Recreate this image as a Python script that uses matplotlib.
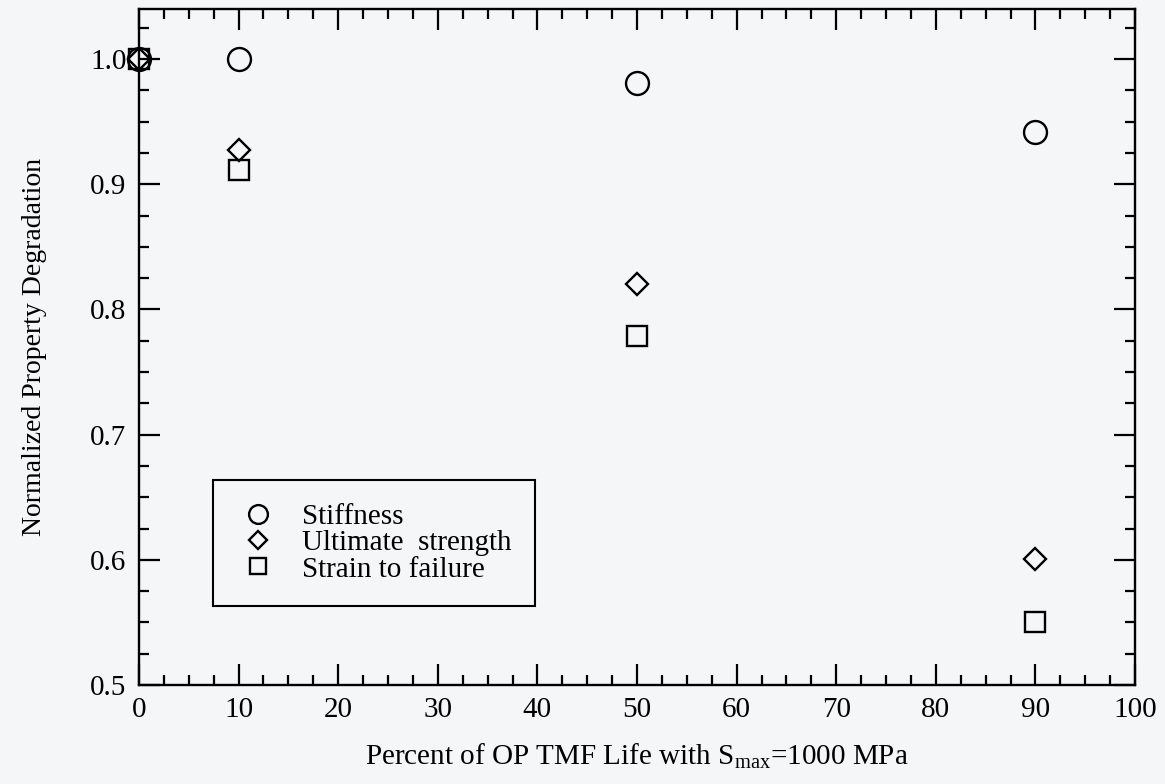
import numpy as np
import matplotlib
matplotlib.use("Agg")
import matplotlib.pyplot as plt
from matplotlib.ticker import MultipleLocator

# Data
pct_life = [0, 10, 50, 90]
stiffness = [1.0, 1.0, 0.981, 0.942]
ult_strength = [1.0, 0.927, 0.82, 0.601]
strain_fail = [1.0, 0.911, 0.779, 0.55]

plt.rcParams['font.family'] = ['Liberation Serif', 'DejaVu Serif']
plt.rcParams['mathtext.fontset'] = 'custom'
plt.rcParams['mathtext.rm'] = 'Liberation Serif'

bg = '#f5f6f8'
fig = plt.figure(figsize=(11.65, 7.84), dpi=100, facecolor=bg)
ax = fig.add_axes([0.1193, 0.1263, 0.8550, 0.8622])
ax.set_facecolor(bg)

mk = dict(linestyle='none', markerfacecolor='none', markeredgecolor='black',
          markeredgewidth=1.7, clip_on=False)
ax.plot(pct_life, stiffness, marker='o', markersize=16.5, label='Stiffness', **mk)
ax.plot(pct_life, ult_strength, marker='D', markersize=11, label='Ultimate  strength', **mk)
ax.plot(pct_life, strain_fail, marker='s', markersize=14, label='Strain to failure', **mk)

ax.set_xlim(0, 100)
ax.set_ylim(0.5, 1.04)
ax.xaxis.set_major_locator(MultipleLocator(10))
ax.xaxis.set_minor_locator(MultipleLocator(2.5))
ax.yaxis.set_major_locator(MultipleLocator(0.1))
ax.yaxis.set_minor_locator(MultipleLocator(0.025))
ax.tick_params(which='both', direction='in', top=True, right=True, width=1.6, labelsize=21, colors='black')
ax.tick_params(which='major', length=15)
ax.tick_params(which='minor', length=7)
ax.tick_params(axis='x', pad=9)
ax.tick_params(axis='y', pad=9)
for s in ax.spines.values():
    s.set_linewidth(1.7)

ax.set_xlabel('Percent of OP TMF Life with S$_{\\mathrm{max}}$=1000 MPa', fontsize=21, labelpad=13)
ax.set_ylabel('Normalized Property Degradation', fontsize=20, labelpad=31)

leg = ax.legend(loc='upper left', bbox_to_anchor=(0.074, 0.3032), borderaxespad=0,
                fancybox=False, edgecolor='black', facecolor=bg, framealpha=1,
                fontsize=21, handlelength=1.5, handletextpad=0.76, labelspacing=0.0,
                borderpad=0.8, numpoints=1)
leg.get_frame().set_linewidth(1.5)
for h in leg.legend_handles:
    h.set_markersize(h.get_markersize() * 0.82)

fig.savefig('out.png', dpi=100, facecolor=bg)
